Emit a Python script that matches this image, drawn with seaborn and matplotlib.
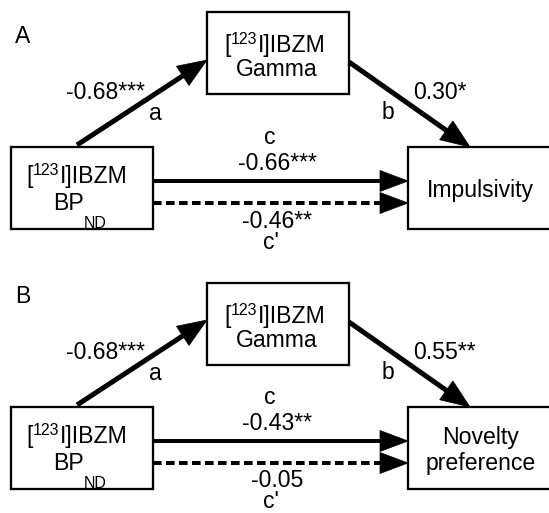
import numpy as np
import pandas as pd
import matplotlib
matplotlib.use('Agg')
import matplotlib.pyplot as plt
from matplotlib.patches import Rectangle, Polygon
from matplotlib.font_manager import FontProperties
import seaborn as sns

sns.set_theme(style='white')
plt.rcParams['font.family'] = ['Liberation Sans', 'DejaVu Sans']
plt.rcParams['text.color'] = 'black'

# ---- data ----
panel_labels = ['A', 'B']
outcome_lines = [['Impulsivity'], ['Novelty', 'preference']]
coef_a = ['-0.68***', '-0.68***']
coef_b = ['0.30*', '0.55**']
coef_c = ['-0.66***', '-0.43**']
coef_cp = ['-0.46**', '-0.05']
path_names = ['a', 'b', 'c', "c'"]

# ---- layout ----
W, H, DPI = 549, 513, 100
FPX = 23.0          # main font size in pixels
SUPPX = 16.0        # superscript size in pixels
SUBPX = 16.0        # subscript size in pixels


def pt(px):
    return px * 72.0 / DPI


fig = plt.figure(figsize=(W / DPI, H / DPI), dpi=DPI)
fig.patch.set_facecolor('white')
ax = fig.add_axes([0, 0, 1, 1])
renderer = fig.canvas.get_renderer()


def txt(x, y, s, ha='center', size=FPX):
    ax.text(x, y, s, fontsize=pt(size), ha=ha, va='baseline', color='black',
            family='Liberation Sans')


def rich(cx, base, parts):
    """parts: list of (text, size_px, raise_px); centred at cx, baseline at base."""
    widths = []
    for s, sz, _ in parts:
        prop = FontProperties(family='Liberation Sans', size=pt(sz))
        w, h, d = renderer.get_text_width_height_descent(s, prop, ismath=False)
        widths.append(w)
    x = cx - sum(widths) / 2.0
    for (s, sz, r), w in zip(parts, widths):
        txt(x, base - r, s, ha='left', size=sz)
        x += w


def ibzm(cx, base):
    rich(cx, base, [('[', FPX, 0), ('123', SUPPX, 8), ('I]IBZM', FPX, 0)])


def arrow(x0, y0, x1, y1, lw_px, dashed=False, hl=28.0, hw=10.5):
    d = np.array([x1 - x0, y1 - y0], dtype=float)
    L = np.hypot(*d)
    u = d / L
    n = np.array([-u[1], u[0]])
    base = np.array([x1, y1]) - u * hl
    end = base + u * 2
    seg = pd.DataFrame({'x': [x0, end[0]], 'y': [y0, end[1]]})
    lw = pt(lw_px)
    if dashed:
        ls = (0, (pt(8.6) / lw, pt(4.4) / lw))
    else:
        ls = '-'
    sns.lineplot(data=seg, x='x', y='y', ax=ax, color='black', linewidth=lw,
                 linestyle=ls, sort=False, estimator=None,
                 solid_capstyle='butt', dash_capstyle='butt')
    tri = np.array([[x1, y1], base + n * hw, base - n * hw])
    ax.add_patch(Polygon(tri, closed=True, fc='black', ec='black', lw=0.5, zorder=3))


def box(x0, y0, x1, y1):
    ax.add_patch(Rectangle((x0, y0), x1 - x0, y1 - y0, fill=True, fc='white',
                           ec='black', lw=pt(2.3), zorder=2))


offsets = [0, 260]
gamma_tops = [12, 283]

for i, lab in enumerate(panel_labels):
    off = offsets[i]
    gt = gamma_tops[i]

    # panel letter
    txt(15, 43 + off, lab, ha='left')

    # boxes
    box(207, gt, 349, gt + 82)
    box(11, 147 + off, 153, 229 + off)
    box(408, 147 + off, 553, 229 + off)

    # box texts
    ibzm(275, gt + 40)
    rich(277, gt + 64, [('Gamma', FPX, 0)])
    ibzm(77, 183 + off)
    rich(80, 210 + off, [('BP', FPX, 0), ('ND', SUBPX, -18)])
    lines = outcome_lines[i]
    if len(lines) == 1:
        rich(480, 197 + off, [(lines[0], FPX, 0)])
    else:
        rich(481, 184 + off, [(lines[0], FPX, 0)])
        rich(481, 210 + off, [(lines[1], FPX, 0)])

    # arrows
    arrow(77, 145 + off, 207, 60 + off, 5.0, hl=29, hw=11.5)
    arrow(349, 62 + off, 470, 147 + off, 5.0, hl=29, hw=11.5)
    arrow(153, 181 + off, 408, 181 + off, 4.0)
    arrow(153, 203 + off, 408, 203 + off, 4.0, dashed=True)

    # coefficient labels
    txt(145, 99 + off, coef_a[i], ha='right')
    txt(155, 120 + off, path_names[0])
    txt(413, 99 + off, coef_b[i], ha='left')
    txt(388, 119 + off, path_names[1])
    txt(270, 144.5 + off, path_names[2])
    txt(277, 170 + off, coef_c[i])

cp_base = [228, 487]
cpn_base = [249, 508]
for i in range(2):
    txt(277, cp_base[i], coef_cp[i])
    txt(271, cpn_base[i], path_names[3])

ax.set_xlim(0, W)
ax.set_ylim(H, 0)
ax.axis('off')

fig.savefig('out.png', dpi=DPI, facecolor='white')
